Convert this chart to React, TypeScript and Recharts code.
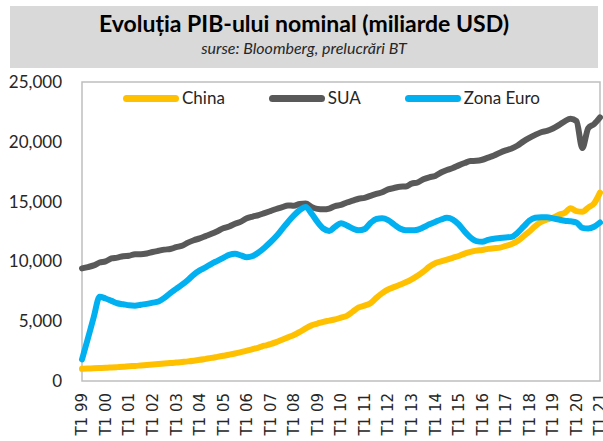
import { LineChart, Line, XAxis, YAxis, ReferenceArea } from 'recharts'

const YEARS = ['99', '00', '01', '02', '03', '04', '05', '06', '07', '08', '09', '10', '11', '12', '13', '14', '15', '16', '17', '18', '19', '20', '21']
const QUARTERS = ['T1', 'T2', 'T3', 'T4']

// rolling 4Q GDP, bn USD
const china = [
  1020, 1040, 1060, 1080, 1100, 1130, 1160, 1190, 1230, 1260, 1300, 1340,
  1380, 1420, 1460, 1500, 1540, 1590, 1640, 1700, 1770, 1850, 1930, 2020,
  2110, 2200, 2300, 2420, 2540, 2670, 2800, 2950, 3080, 3250, 3450, 3650,
  3850, 4100, 4400, 4650, 4800, 4950, 5050, 5150, 5300, 5450, 5800, 6150,
  6300, 6500, 6950, 7350, 7650, 7850, 8050, 8250, 8500, 8800, 9150, 9550,
  9850, 10000, 10150, 10300, 10450, 10650, 10800, 10900, 10950, 11050, 11100, 11150,
  11300, 11450, 11700, 12100, 12500, 12950, 13300, 13500, 13650, 13900, 14050, 14450,
  14200, 14150, 14500, 14850, 15750,
]

const sua = [
  9412, 9526, 9666, 9908, 10002, 10248, 10318, 10436, 10470, 10599, 10598, 10660,
  10784, 10887, 10985, 11035, 11192, 11313, 11568, 11771, 11923, 12112, 12305, 12527,
  12767, 12922, 13143, 13325, 13600, 13750, 13868, 14037, 14209, 14383, 14535, 14681,
  14651, 14805, 14835, 14559, 14394, 14352, 14420, 14629, 14721, 14926, 15080, 15241,
  15307, 15484, 15643, 15788, 16023, 16134, 16248, 16265, 16500, 16601, 16862, 17031,
  17142, 17433, 17640, 17813, 18030, 18224, 18387, 18406, 18499, 18682, 18862, 19087,
  19280, 19438, 19692, 20037, 20328, 20580, 20799, 20917, 21111, 21397, 21717, 21933,
  21728, 19477, 21139, 21478, 22038,
]

const zonaEuro = [
  1800, 3550, 5350, 7050, 6900, 6700, 6500, 6420, 6330, 6300, 6380, 6450,
  6550, 6650, 6950, 7350, 7700, 8050, 8450, 8900, 9250, 9500, 9800, 10050,
  10300, 10550, 10650, 10500, 10350, 10450, 10750, 11150, 11600, 12100, 12700, 13300,
  13850, 14300, 14550, 14000, 13300, 12750, 12550, 12900, 13200, 13000, 12750, 12600,
  12700, 13200, 13550, 13600, 13450, 13100, 12750, 12600, 12600, 12650, 12850, 13100,
  13300, 13500, 13650, 13500, 13100, 12500, 12000, 11700, 11650, 11800, 11900, 11950,
  12000, 12050, 12400, 12900, 13400, 13650, 13700, 13700, 13600, 13500, 13400, 13350,
  13250, 12800, 12750, 12900, 13250,
]

const yTicks = [0, 5000, 10000, 15000, 20000, 25000]

const labels = YEARS.flatMap(y => QUARTERS.map(q => `${q} ${y}`)).slice(0, china.length)
const data = labels.map((q, i) => ({ q, china: china[i], sua: sua[i], euro: zonaEuro[i] }))

const SERIES = [
  { key: 'china', name: 'China', color: '#FFC000' },
  { key: 'sua', name: 'SUA', color: '#595959' },
  { key: 'euro', name: 'Zona Euro', color: '#00B0F0' },
]

const FONT = 'Lato, "Open Sans", sans-serif'

function XTick({ x, y, payload }: any) {
  return (
    <g transform={`translate(${x},${y})`}>
      <text transform="rotate(-90)" textAnchor="end" dy="0.36em" fontSize={15}
        fontFamily='"DejaVu Sans", sans-serif' fill="#262626">
        {payload.value}
      </text>
    </g>
  )
}

function LegendBox() {
  return (
    <div style={{
      position: 'absolute', left: 123, top: 87, display: 'flex', alignItems: 'center', gap: 44,
      fontFamily: FONT, fontSize: 17, color: '#262626', lineHeight: '22px'
    }}>
      {SERIES.map(s => (
        <div key={s.key} style={{ display: 'flex', alignItems: 'center' }}>
          <div style={{ width: 56, height: 7, borderRadius: 4, background: s.color, marginRight: 3 }} />
          <span>{s.name}</span>
        </div>
      ))}
    </div>
  )
}

export default function App() {
  return (
    <div style={{ position: 'absolute', left: 0, top: 0, width: 603, height: 441, background: '#fff', fontFamily: FONT }}>
      <div style={{
        position: 'absolute', left: 10, top: 6, width: 588, height: 62, background: '#D9D9D9',
        textAlign: 'center', color: '#000'
      }}>
        <div style={{ fontSize: 23, fontWeight: 700, marginTop: 3, lineHeight: '28px' }}>
          Evoluția PIB-ului nominal (miliarde USD)
        </div>
        <div style={{ fontSize: 16, fontStyle: 'italic', lineHeight: '22px', color: '#262626' }}>
          surse: Bloomberg, prelucrări BT
        </div>
      </div>
      <div style={{ position: 'absolute', left: 0, top: 0 }}>
        <LineChart width={603} height={441} data={data} margin={{ top: 82, right: 3, bottom: 0, left: 0 }}>
          <ReferenceArea y1={0} y2={25000} fill="none" stroke="#BFBFBF" strokeWidth={1.5} ifOverflow="visible" />
          <XAxis dataKey="q" interval={3} height={60} tickLine={false} axisLine={false} tickSize={0}
            tickMargin={12} tick={<XTick />} />
          <YAxis domain={[0, 25000]} ticks={yTicks} width={82} tickLine={false} axisLine={false}
            tickSize={0} tickMargin={20}
            tickFormatter={(v: number) => v.toLocaleString('en-US')}
            tick={{ fontSize: 17, fill: '#262626', fontFamily: FONT }} />
          {SERIES.map(s => (
            <Line key={s.key} type="monotone" dataKey={s.key} name={s.name} stroke={s.color}
              strokeWidth={6} dot={false} strokeLinecap="round" strokeLinejoin="round"
              isAnimationActive={false} />
          ))}
        </LineChart>
      </div>
      <LegendBox />
    </div>
  )
}
